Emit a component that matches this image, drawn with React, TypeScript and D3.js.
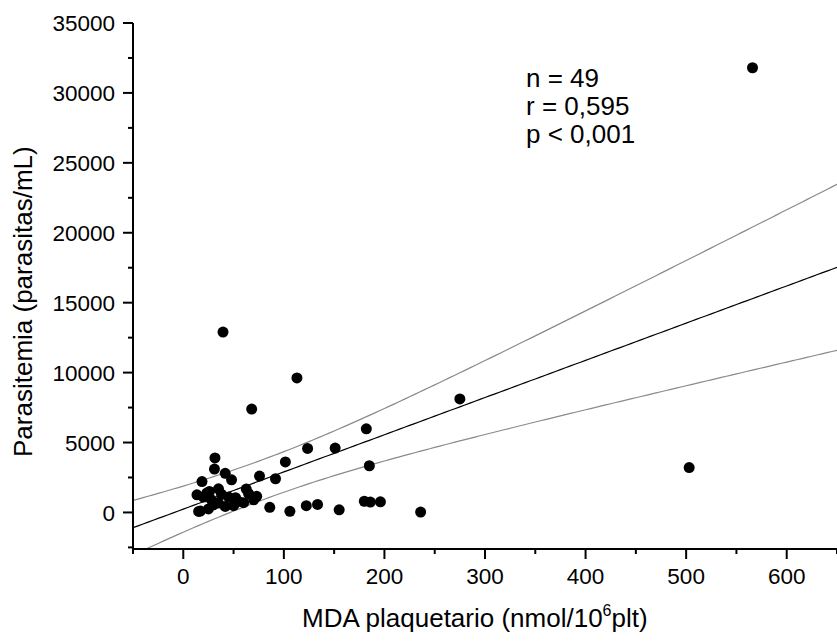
import React from "react";
import * as d3 from "d3";

const mda = [566, 503, 275, 39.5, 113, 68, 182, 151, 123.6, 101.5, 185, 236, 196, 180, 186, 155, 133.5, 122.3, 106, 86, 91.7, 75.8, 31.5, 31, 41.7, 48, 18.6, 13.6, 23.5, 35, 62.6, 65, 73, 70, 55, 15.3, 25, 41.7, 35, 50, 28, 45, 20, 30, 60, 38, 17, 26, 52];
const parasitemia = [31800, 3210, 8120, 12900, 9620, 7390, 5980, 4600, 4580, 3610, 3340, 30, 760, 800, 740, 190, 570, 480, 80, 370, 2410, 2600, 3900, 3100, 2800, 2330, 2210, 1260, 1390, 1690, 1670, 1340, 1150, 900, 790, 70, 250, 430, 670, 480, 900, 1100, 1100, 550, 700, 1300, 100, 1500, 1050];

const xMajorTicks = [0, 100, 200, 300, 400, 500, 600];
const xMinorTicks = [-50, 50, 150, 250, 350, 450, 550, 650];
const yMajorTicks = [0, 5000, 10000, 15000, 20000, 25000, 30000, 35000];
const yMinorTicks = [-2500, 2500, 7500, 12500, 17500, 22500, 27500, 32500];

const statsLines = ["n = 49", "r = 0,595", "p < 0,001"];

// regression fit and 95% confidence band
const fitIntercept = 237;
const fitSlope = 26.6;
const bandCenterX = 80.4;
const bandMinHalfWidth = 1436;
const bandGrowth = 10.11;

const W = 837;
const H = 642;
const left = 133;
const right = 837;
const top = 23;
const bottom = 549;

const FONT = "'Liberation Sans', Arial, Helvetica, sans-serif";

export default function App() {
  const x = d3.scaleLinear().domain([-50, 650]).range([left, right]);
  const y = d3.scaleLinear().domain([-2614, 35000]).range([bottom, top]);

  const samples = d3.range(-50, 650.5, 5);
  const fit = (v: number) => fitIntercept + fitSlope * v;
  const half = (v: number) =>
    Math.sqrt(bandMinHalfWidth * bandMinHalfWidth + Math.pow(bandGrowth * (v - bandCenterX), 2));

  const line = d3
    .line<number>()
    .x((v) => x(v))
    .y((v) => y(fit(v)));
  const upper = d3
    .line<number>()
    .x((v) => x(v))
    .y((v) => y(fit(v) + half(v)));
  const lower = d3
    .line<number>()
    .x((v) => x(v))
    .y((v) => y(fit(v) - half(v)));

  return (
    <div style={{ position: "absolute", left: 0, top: 0 }}>
      <svg width={W} height={H} style={{ display: "block", background: "#fff" }} fontFamily={FONT} fill="#000">
        <defs>
          <clipPath id="plot">
            <rect x={left} y={top} width={right - left} height={bottom - top} />
          </clipPath>
        </defs>
        <g clipPath="url(#plot)" fill="none">
          <path d={upper(samples) || ""} stroke="#8a8a8a" strokeWidth={1.2} />
          <path d={lower(samples) || ""} stroke="#8a8a8a" strokeWidth={1.2} />
          <path d={line(samples) || ""} stroke="#000" strokeWidth={1.2} />
        </g>
        <g>
          {mda.map((v, i) => (
            <circle key={i} cx={x(v)} cy={y(parasitemia[i])} r={5.5} fill="#000" />
          ))}
        </g>
        {/* y axis */}
        <line x1={left} x2={left} y1={top} y2={bottom} stroke="#000" strokeWidth={2} />
        {yMajorTicks.map((t) => (
          <g key={"ym" + t}>
            <line x1={left - 10} x2={left} y1={y(t)} y2={y(t)} stroke="#000" strokeWidth={2} />
            <text x={left - 18} y={y(t)} dy="0.36em" textAnchor="end" fontSize={22.5}>
              {t}
            </text>
          </g>
        ))}
        {yMinorTicks.map((t) => (
          <line key={"yn" + t} x1={left - 5} x2={left} y1={y(t)} y2={y(t)} stroke="#000" strokeWidth={2} />
        ))}
        {/* x axis */}
        <line x1={left} x2={right} y1={bottom} y2={bottom} stroke="#000" strokeWidth={2} />
        {xMajorTicks.map((t) => (
          <g key={"xm" + t}>
            <line x1={x(t)} x2={x(t)} y1={bottom} y2={bottom + 10} stroke="#000" strokeWidth={2} />
            <text x={x(t)} y={bottom + 35} textAnchor="middle" fontSize={22.5}>
              {t}
            </text>
          </g>
        ))}
        {xMinorTicks.map((t) => (
          <line key={"xn" + t} x1={x(t)} x2={x(t)} y1={bottom} y2={bottom + 5} stroke="#000" strokeWidth={2} />
        ))}
        {/* titles */}
        <text x={302} y={627} textAnchor="start" fontSize={26}>
          MDA plaquetario (nmol/10
          <tspan dy={-11} fontSize={16}>6</tspan>
          <tspan dy={11}>plt)</tspan>
        </text>
        <text transform={`translate(32, 457) rotate(-90)`} textAnchor="start" fontSize={26}>
          Parasitemia (parasitas/mL)
        </text>
        {statsLines.map((s, i) => (
          <text key={s} x={526} y={87 + i * 28} fontSize={26}>
            {s}
          </text>
        ))}
      </svg>
    </div>
  );
}
